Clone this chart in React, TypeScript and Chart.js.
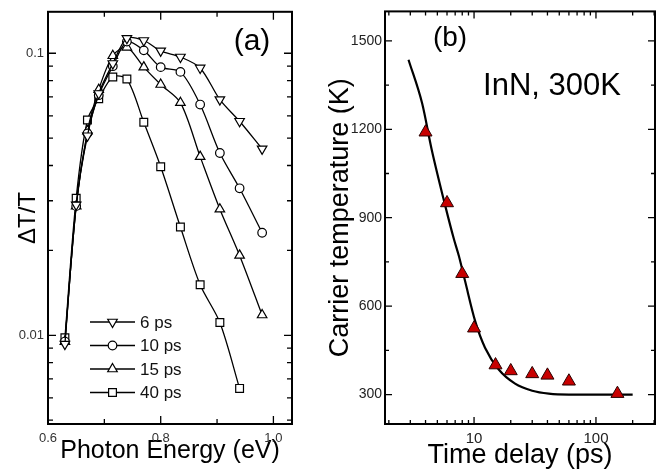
import React, { useEffect, useRef } from "react";
import { Chart, registerables } from "chart.js";
import { drawPoint } from "chart.js/helpers";

Chart.register(...registerables);

// ---------- Panel (a) data ----------
const energyEV = [0.63, 0.65, 0.67, 0.69, 0.715, 0.74, 0.77, 0.8, 0.835, 0.87, 0.905, 0.94, 0.98];
const dT6ps = [0.0093, 0.029, 0.051, 0.072, 0.092, 0.113, 0.111, 0.102, 0.097, 0.0887, 0.0685, 0.0574, 0.0458];
const dT10ps = [0.0095, 0.0287, 0.052, 0.071, 0.09, 0.11, 0.1024, 0.0893, 0.0859, 0.0658, 0.0443, 0.0332, 0.0231];
const dT15ps = [0.0095, 0.0287, 0.053, 0.0743, 0.098, 0.105, 0.0893, 0.0775, 0.0668, 0.043, 0.028, 0.0192, 0.0118];
const dT40ps = [0.0098, 0.0306, 0.058, 0.069, 0.0824, 0.081, 0.0569, 0.0396, 0.0242, 0.0151, 0.0111, 0.00648];
const seriesLabels = ["6 ps", "10 ps", "15 ps", "40 ps"];

const energyTicks = [0.6, 0.8, 1.0];
const energyMinorTicks = [0.7, 0.9];
const dTTicks = [0.01, 0.1];
const dTMinorTicks = [0.005, 0.006, 0.007, 0.008, 0.009, 0.02, 0.03, 0.04, 0.05, 0.06, 0.07, 0.08, 0.09];

// ---------- Panel (b) data ----------
const delayPs = [4, 6, 8, 10, 15, 20, 30, 40, 60, 150];
const carrierTempK = [1190, 950, 710, 525, 400, 380, 370, 365, 345, 303];
const fitDelayPs = [2.9, 3.75, 4.5, 5.8, 6.85, 7.5, 8.45, 10.2, 12.3, 16, 21.7, 30, 41, 60, 100, 200];
const fitTempK = [1436, 1288, 1130, 941, 826, 771, 684, 550, 459, 384, 337, 313, 303, 300, 300, 300];

const delayTicks = [10, 100];
const delayMinorTicks = [2, 3, 4, 5, 6, 7, 8, 9, 20, 30, 40, 50, 60, 70, 80, 90, 200, 300];
const tempTicks = [300, 600, 900, 1200, 1500];
const tempMinorTicks = [450, 750, 1050, 1350];

const SANS = '"Liberation Sans", Arial, sans-serif';

function framePlugin(cfg: {
  xMajor: number[];
  xMinor: number[];
  yMajor: number[];
  yMinor: number[];
  majorLen: number;
  minorLen: number;
}) {
  return {
    id: "frame",
    afterDraw(chart: any) {
      const { ctx, chartArea } = chart;
      const { left, right, top, bottom } = chartArea;
      const xs = chart.scales.x;
      const ys = chart.scales.y;
      ctx.save();
      ctx.strokeStyle = "#000";
      ctx.lineWidth = 1.3;
      ctx.beginPath();
      const xt = (vals: number[], len: number) => {
        vals.forEach((v) => {
          const px = xs.getPixelForValue(v);
          if (px < left - 0.5 || px > right + 0.5) return;
          ctx.moveTo(px, bottom);
          ctx.lineTo(px, bottom - len);
          ctx.moveTo(px, top);
          ctx.lineTo(px, top + len);
        });
      };
      const yt = (vals: number[], len: number) => {
        vals.forEach((v) => {
          const py = ys.getPixelForValue(v);
          if (py < top - 0.5 || py > bottom + 0.5) return;
          ctx.moveTo(left, py);
          ctx.lineTo(left + len, py);
          ctx.moveTo(right, py);
          ctx.lineTo(right - len, py);
        });
      };
      xt(cfg.xMajor, cfg.majorLen);
      xt(cfg.xMinor, cfg.minorLen);
      yt(cfg.yMajor, cfg.majorLen);
      yt(cfg.yMinor, cfg.minorLen);
      ctx.stroke();
      ctx.lineWidth = 2;
      ctx.strokeRect(left, top, right - left, bottom - top);
      ctx.restore();
    },
  };
}

function textPlugin(items: { text: string; x: number; y: number; font: string }[]) {
  return {
    id: "texts",
    afterDraw(chart: any) {
      const ctx = chart.ctx;
      ctx.save();
      ctx.fillStyle = "#000";
      ctx.textAlign = "center";
      ctx.textBaseline = "middle";
      items.forEach((it) => {
        ctx.font = it.font;
        ctx.fillText(it.text, it.x, it.y);
      });
      ctx.restore();
    },
  };
}

const legendPlugin = {
  id: "legendA",
  afterDraw(chart: any) {
    const ctx = chart.ctx;
    ctx.save();
    chart.data.datasets.forEach((ds: any, i: number) => {
      const y = 322 + i * 23.5;
      ctx.strokeStyle = "#000";
      ctx.lineWidth = 1.6;
      ctx.beginPath();
      ctx.moveTo(90, y);
      ctx.lineTo(135, y);
      ctx.stroke();
      ctx.fillStyle = "#fff";
      ctx.lineWidth = 1.2;
      drawPoint(ctx, { pointStyle: ds.pointStyle, rotation: ds.rotation || 0, radius: ds.pointRadius, borderWidth: 1.2 } as any, 112.5, y);
      ctx.fillStyle = "#111";
      ctx.font = `17px ${SANS}`;
      ctx.textAlign = "left";
      ctx.textBaseline = "middle";
      ctx.fillText(ds.label, 140, y + 1);
    });
    ctx.restore();
  },
};

function makeSeriesA(label: string, ys: number[], style: string, radius: number, rotation = 0) {
  return {
    label,
    data: ys.map((y, i) => ({ x: energyEV[i], y })),
    borderColor: "#000",
    borderWidth: 1.3,
    backgroundColor: "#fff",
    pointStyle: style,
    rotation,
    pointRadius: radius,
    pointBorderWidth: 1.2,
    pointBackgroundColor: "#fff",
    pointBorderColor: "#000",
    tension: 0.3,
    fill: false,
  };
}

function PanelA() {
  const ref = useRef<HTMLCanvasElement | null>(null);
  useEffect(() => {
    if (!ref.current) return;
    const chart = new Chart(ref.current, {
      type: "line",
      data: {
        datasets: [
          makeSeriesA(seriesLabels[0], dT6ps, "triangle", 5.5, 180),
          makeSeriesA(seriesLabels[1], dT10ps, "circle", 4.3),
          makeSeriesA(seriesLabels[2], dT15ps, "triangle", 5.5),
          makeSeriesA(seriesLabels[3], dT40ps, "rect", 5.5),
        ] as any,
      },
      options: {
        responsive: false,
        animation: false,
        devicePixelRatio: 1,
        layout: { padding: { left: 0, right: 30, top: 6, bottom: 0 } },
        plugins: { legend: { display: false }, tooltip: { enabled: false } },
        scales: {
          x: {
            type: "linear",
            min: 0.6,
            max: 1.033,
            afterFit(s: any) {
              s.height = 52;
            },
            afterBuildTicks(s: any) {
              s.ticks = energyTicks.map((v) => ({ value: v }));
            },
            grid: { display: false, drawTicks: false },
            border: { display: false },
            ticks: {
              padding: 7,
              autoSkip: false,
              maxRotation: 0,
              color: "#333",
              font: { family: SANS, size: 13 },
              callback: (v: any) => Number(v).toFixed(1),
            },
            title: {
              display: true,
              text: "Photon Energy (eV)",
              color: "#000",
              font: { family: SANS, size: 25 },
              padding: { top: 0, bottom: 10 },
            },
          },
          y: {
            type: "logarithmic",
            min: 0.004846,
            max: 0.1403,
            afterFit(s: any) {
              s.width = 48;
            },
            afterBuildTicks(s: any) {
              s.ticks = dTTicks.map((v) => ({ value: v }));
            },
            grid: { display: false, drawTicks: false },
            border: { display: false },
            ticks: {
              padding: 4,
              autoSkip: false,
              color: "#333",
              font: { family: SANS, size: 13 },
              callback: (v: any) => String(v),
            },
            title: {
              display: true,
              text: "ΔT/T",
              color: "#000",
              font: { family: SANS, size: 24 },
              padding: { top: 14, bottom: 0 },
            },
          },
        },
      } as any,
      plugins: [
        framePlugin({
          xMajor: energyTicks,
          xMinor: energyMinorTicks,
          yMajor: dTTicks,
          yMinor: dTMinorTicks,
          majorLen: 8,
          minorLen: 5,
        }),
        legendPlugin,
        textPlugin([{ text: "(a)", x: 252, y: 42, font: `30px ${SANS}` }]),
      ],
    });
    return () => chart.destroy();
  }, []);
  return (
    <canvas
      ref={ref}
      width={322}
      height={476}
      style={{ position: "absolute", left: 0, top: 0, width: 322, height: 476 }}
    />
  );
}

function PanelB() {
  const ref = useRef<HTMLCanvasElement | null>(null);
  useEffect(() => {
    if (!ref.current) return;
    const chart = new Chart(ref.current, {
      type: "line",
      data: {
        datasets: [
          {
            label: "Data",
            data: delayPs.map((x, i) => ({ x, y: carrierTempK[i] })),
            showLine: false,
            pointStyle: "triangle",
            pointRadius: 7.5,
            pointBackgroundColor: "#c80000",
            pointBorderColor: "#2a0000",
            pointBorderWidth: 1,
            order: 0,
          },
          {
            label: "Fit",
            data: fitDelayPs.map((x, i) => ({ x, y: fitTempK[i] })),
            borderColor: "#000",
            borderWidth: 2.2,
            pointRadius: 0,
            cubicInterpolationMode: "monotone",
            fill: false,
            order: 1,
          },
        ] as any,
      },
      options: {
        responsive: false,
        animation: false,
        devicePixelRatio: 1,
        layout: { padding: { left: 0, right: 9, top: 6, bottom: 0 } },
        plugins: { legend: { display: false }, tooltip: { enabled: false } },
        scales: {
          x: {
            type: "logarithmic",
            min: 1.86,
            max: 305,
            afterFit(s: any) {
              s.height = 52;
            },
            afterBuildTicks(s: any) {
              s.ticks = delayTicks.map((v) => ({ value: v }));
            },
            grid: { display: false, drawTicks: false },
            border: { display: false },
            ticks: {
              padding: 6,
              autoSkip: false,
              maxRotation: 0,
              color: "#222",
              font: { family: SANS, size: 15 },
              callback: (v: any) => String(v),
            },
            title: {
              display: true,
              text: "Time delay (ps)",
              color: "#000",
              font: { family: SANS, size: 27 },
              padding: { top: 0, bottom: 4 },
            },
          },
          y: {
            type: "linear",
            min: 200,
            max: 1600,
            afterFit(s: any) {
              s.width = 63;
            },
            afterBuildTicks(s: any) {
              s.ticks = tempTicks.map((v) => ({ value: v }));
            },
            grid: { display: false, drawTicks: false },
            border: { display: false },
            ticks: {
              padding: 3,
              autoSkip: false,
              color: "#222",
              font: { family: SANS, size: 14 },
              callback: (v: any) => String(v),
            },
            title: {
              display: true,
              text: "Carrier temperature (K)",
              color: "#000",
              font: { family: SANS, size: 27 },
              padding: { top: 2, bottom: 0 },
            },
          },
        },
      } as any,
      plugins: [
        framePlugin({
          xMajor: delayTicks,
          xMinor: delayMinorTicks,
          yMajor: tempTicks,
          yMinor: tempMinorTicks,
          majorLen: 7,
          minorLen: 4,
        }),
        textPlugin([
          { text: "(b)", x: 128, y: 38, font: `28px ${SANS}` },
          { text: "InN, 300K", x: 230, y: 86, font: `31px ${SANS}` },
        ]),
      ],
    });
    return () => chart.destroy();
  }, []);
  return (
    <canvas
      ref={ref}
      width={342}
      height={476}
      style={{ position: "absolute", left: 322, top: 0, width: 342, height: 476 }}
    />
  );
}

export default function App() {
  return (
    <div
      style={{
        position: "fixed",
        left: 0,
        top: 0,
        width: 664,
        height: 476,
        background: "#fff",
        overflow: "hidden",
      }}
    >
      <PanelA />
      <PanelB />
    </div>
  );
}
